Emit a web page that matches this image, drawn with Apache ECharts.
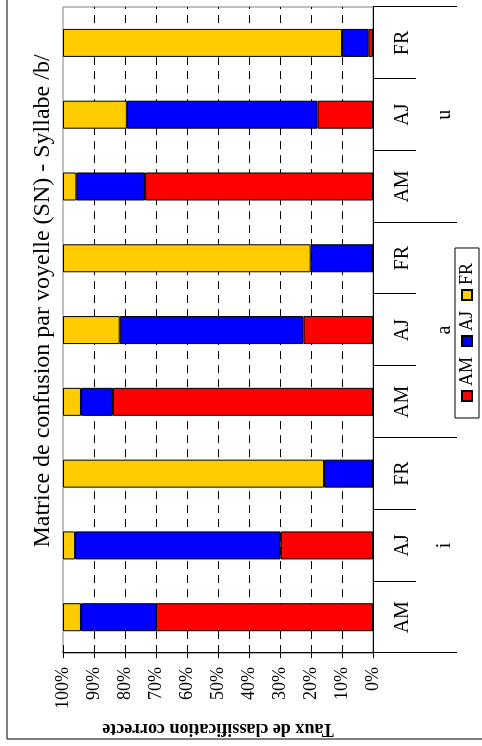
<!DOCTYPE html>
<html>
<head>
<meta charset="utf-8">
<script src="https://cdn.jsdelivr.net/npm/echarts@6/dist/echarts.min.js"></script>
<style>
  html, body { margin: 0; padding: 0; width: 482px; height: 746px; overflow: hidden; background: #fff; }
  #chart {
    position: absolute; left: 0; top: 0;
    width: 746px; height: 482px;
    transform-origin: 0 0;
    transform: translate(0px, 746px) rotate(-90deg);
  }
</style>
</head>
<body>
<div id="chart"></div>
<script>
// ---- data ----
const subCategories = ['AM', 'AJ', 'FR', 'AM', 'AJ', 'FR', 'AM', 'AJ', 'FR'];
const groupCategories = ['i', 'a', 'u'];
const seriesNames = ['AM', 'AJ', 'FR'];
const valuesAM = [70.0, 29.8, 0, 83.9, 22.4, 0, 73.5, 17.9, 1.5];
const valuesAJ = [24.2, 66.3, 15.8, 10.3, 59.3, 20.1, 22.2, 61.5, 8.5];
const valuesFR = [5.8, 3.9, 84.2, 5.8, 18.3, 79.9, 4.3, 20.6, 90.0];
const valueTicks = [0, 10, 20, 30, 40, 50, 60, 70, 80, 90, 100];
const titleText = 'Matrice de confusion par voyelle (SN) - Syllabe /b/';
const axisTitle = 'Taux de classification correcte';

const colors = { AM: '#FF0000', AJ: '#0000FF', FR: '#FFCC00' };
const FONT = "'Liberation Serif', 'Times New Roman', serif";

const chart = echarts.init(document.getElementById('chart'), null, { renderer: 'canvas' });

function barSeries(name, data) {
  return {
    name: name,
    type: 'bar',
    stack: 'total',
    xAxisIndex: 0,
    yAxisIndex: 0,
    barWidth: 28,
    data: data,
    itemStyle: { color: colors[name], borderColor: '#000', borderWidth: 1 },
    emphasis: { disabled: true }
  };
}

const option = {
  animation: false,
  backgroundColor: '#fff',
  textStyle: { fontFamily: FONT },
  title: {
    text: titleText,
    left: 440,
    textAlign: 'center',
    top: 26,
    textStyle: { fontFamily: FONT, fontSize: 24, fontWeight: 'normal', color: '#000' }
  },
  legend: {
    data: seriesNames,
    left: 328,
    top: 455,
    orient: 'horizontal',
    icon: 'rect',
    itemWidth: 10,
    itemHeight: 10,
    itemGap: 10,
    padding: [3, 15, 3, 16],
    borderColor: '#000',
    borderWidth: 1,
    selectedMode: false,
    textStyle: { fontFamily: FONT, fontSize: 18, color: '#000' }
  },
  grid: {
    left: 92, top: 63, width: 647, height: 310,
    show: true, borderColor: '#808080', borderWidth: 1, backgroundColor: 'transparent'
  },
  xAxis: [
    {
      type: 'category',
      data: subCategories,
      position: 'bottom',
      boundaryGap: true,
      axisLine: { show: true, lineStyle: { color: '#000', width: 1 } },
      axisTick: { show: true, interval: 0, length: 43, lineStyle: { color: '#000' } },
      axisLabel: { interval: 0, margin: 20, fontFamily: FONT, fontSize: 20, color: '#000' },
      splitLine: { show: false }
    },
    {
      type: 'category',
      data: groupCategories,
      position: 'bottom',
      boundaryGap: true,
      axisLine: { show: false },
      axisTick: { show: true, interval: 0, length: 84, lineStyle: { color: '#000' } },
      axisLabel: { interval: 0, margin: 62, fontFamily: FONT, fontSize: 20, color: '#000' },
      splitLine: { show: false }
    }
  ],
  yAxis: [
    {
      type: 'value',
      min: 0, max: 100, interval: 10,
      position: 'left',
      name: axisTitle,
      nameLocation: 'middle',
      nameGap: 59,
      nameTextStyle: { fontFamily: FONT, fontSize: 18, fontWeight: 'bold', color: '#000' },
      axisLine: { show: true, lineStyle: { color: '#000', width: 1 } },
      axisTick: { show: true, inside: true, length: 8, lineStyle: { color: '#000' } },
      axisLabel: { formatter: '{value}%', margin: 14, fontFamily: FONT, fontSize: 18, color: '#000' },
      splitLine: { show: true, showMinLine: false, showMaxLine: false, lineStyle: { color: '#000', type: [8, 6], width: 1 } }
    },
    {
      type: 'value',
      min: 0, max: 100, interval: 10,
      position: 'left',
      axisLine: { show: false },
      axisTick: { show: true, inside: false, length: 5, lineStyle: { color: '#000' } },
      axisLabel: { show: false },
      splitLine: { show: false }
    }
  ],
  graphic: [
    {
      type: 'rect',
      shape: { x: 7, y: 7, width: 900, height: 700 },
      style: { fill: 'none', stroke: '#000', lineWidth: 1 },
      silent: true,
      z: -1
    }
  ],
  series: [
    barSeries('AM', valuesAM),
    barSeries('AJ', valuesAJ),
    barSeries('FR', valuesFR)
  ]
};

chart.setOption(option);
</script>
</body>
</html>
